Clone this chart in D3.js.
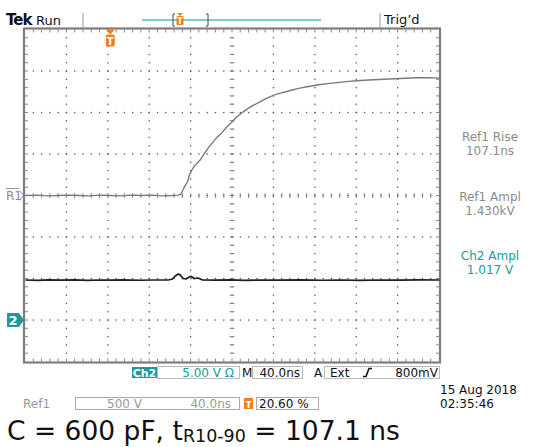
<!DOCTYPE html>
<html><head><meta charset="utf-8">
<script src="https://cdn.jsdelivr.net/npm/d3@7"></script>
<style>
html,body{margin:0;padding:0;background:#fff;}
svg{display:block;}
text{font-family:"DejaVu Sans",sans-serif;}
</style></head>
<body>
<script>
// ---- data ----
// Ref1 (rise waveform): time in ns relative to trigger, voltage in V
const ref1Time = [-82, -70, -60, -50, -40, -30, -20, -10, 0, 10, 20, 30, 40, 50, 60, 66, 68, 70, 71, 73, 75, 76.5, 77.3, 78.9, 81, 84, 87, 90, 95, 99, 103, 108, 113, 117.6, 120.8, 126, 132, 138, 145, 151, 158, 166, 174, 182, 190, 200, 210, 219, 228, 238, 250, 264, 280, 296, 308, 318];
const ref1Volt = [0, 5, -5, 0, 5, 0, -5, 5, 0, -5, 5, 0, 5, -5, 0, 5, 15, 60, 90, 130, 180, 250, 270, 310, 350, 390, 430, 490, 580, 640, 700, 760, 830, 885, 930, 985, 1040, 1085, 1130, 1170, 1210, 1240, 1265, 1290, 1310, 1332, 1348, 1360, 1372, 1383, 1392, 1400, 1410, 1418, 1420, 1414];
// Ch2 (current probe): time in ns, voltage in V
const ch2Time = [-82, -70, -60, -48, -35, -22, -10, 0, 12, 29, 42, 56, 60, 62.8, 65.7, 67.6, 70.5, 73.4, 76.3, 78.3, 81.2, 84, 86, 88.9, 100, 116, 130, 145, 165, 184, 205, 222, 240, 261, 280, 300, 318];
const ch2Volt = [4.82, 4.78, 4.84, 4.80, 4.83, 4.78, 4.82, 4.80, 4.84, 4.79, 4.82, 4.82, 4.94, 5.30, 5.54, 5.42, 5.00, 4.96, 5.18, 5.24, 5.00, 5.06, 5.00, 4.84, 4.80, 4.83, 4.78, 4.82, 4.80, 4.83, 4.79, 4.82, 4.78, 4.82, 4.80, 4.83, 4.82];

const divX = 10, divY = 8;
const nsPerDiv = 40, ref1VoltsPerDiv = 500, ch2VoltsPerDiv = 5;
const triggerPct = 0.206;
const ch2GroundDiv = -3; // divisions from centre

const readouts = [
  {l1: "Ref1 Rise", l2: "107.1ns", c: "#8a8a8a"},
  {l1: "Ref1 Ampl", l2: "1.430kV", c: "#8a8a8a"},
  {l1: "Ch2 Ampl", l2: "1.017 V", c: "#1a9a9a"}
];

// ---- layout ----
const W = 537, H = 447;
const L = 25, R = 439, T = 29.5, B = 361.5;
const TEAL = "#1a9a9a", ORANGE = "#f07f1c";

const svg = d3.select("body").append("svg").attr("width", W).attr("height", H);

const gx = d3.scaleLinear().domain([0, divX]).range([L, R]);
const gy = d3.scaleLinear().domain([0, divY]).range([T, B]);
const t0 = -triggerPct * divX * nsPerDiv;
const x = d3.scaleLinear().domain([t0, t0 + divX * nsPerDiv]).range([L, R]);
const yRef = d3.scaleLinear().domain([-4 * ref1VoltsPerDiv, 4 * ref1VoltsPerDiv]).range([B, T]);
// Ch2: ground at ch2GroundDiv divisions from centre
const yCh2 = d3.scaleLinear()
  .domain([(-4 - ch2GroundDiv) * ch2VoltsPerDiv, (4 - ch2GroundDiv) * ch2VoltsPerDiv]).range([B, T]);

// ---- graticule ----
const g = svg.append("g");
const dotColor = "#555";
for (let i = 1; i < divX; i++) {
  if (i === divX / 2) continue;
  for (let k = 1; k < divY * 5; k++) {
    g.append("rect").attr("x", gx(i) - 0.6).attr("y", gy(k / 5) - 0.6).attr("width", 1.3).attr("height", 1.3).attr("fill", dotColor);
  }
}
for (let j = 1; j < divY; j++) {
  if (j === divY / 2) continue;
  for (let k = 1; k < divX * 5; k++) {
    g.append("rect").attr("x", gx(k / 5) - 0.6).attr("y", gy(j) - 0.6).attr("width", 1.3).attr("height", 1.3).attr("fill", dotColor);
  }
}
const cx = gx(divX / 2), cy = gy(divY / 2);
for (let k = 1; k < divY * 5; k++) {
  g.append("rect").attr("x", cx - 0.6).attr("y", gy(k / 5) - 0.6).attr("width", 1.3).attr("height", 1.3).attr("fill", dotColor);
  g.append("line").attr("x1", cx - 2.5).attr("x2", cx + 2.5).attr("y1", gy(k / 5)).attr("y2", gy(k / 5)).attr("stroke", "#777").attr("stroke-width", 0.8);
}
for (let k = 1; k < divX * 5; k++) {
  g.append("rect").attr("x", gx(k / 5) - 0.6).attr("y", cy - 0.6).attr("width", 1.3).attr("height", 1.3).attr("fill", dotColor);
  g.append("line").attr("y1", cy - 2.5).attr("y2", cy + 2.5).attr("x1", gx(k / 5)).attr("x2", gx(k / 5)).attr("stroke", "#777").attr("stroke-width", 0.8);
}
for (let k = 1; k < divX * 5; k++) {
  const xx = gx(k / 5);
  g.append("line").attr("x1", xx).attr("x2", xx).attr("y1", T).attr("y2", T + 3).attr("stroke", "#777").attr("stroke-width", 0.9);
  g.append("line").attr("x1", xx).attr("x2", xx).attr("y1", B).attr("y2", B - 3).attr("stroke", "#777").attr("stroke-width", 0.9);
}
for (let k = 1; k < divY * 5; k++) {
  const yy = gy(k / 5);
  g.append("line").attr("y1", yy).attr("y2", yy).attr("x1", L).attr("x2", L + 3).attr("stroke", "#777").attr("stroke-width", 0.9);
  g.append("line").attr("y1", yy).attr("y2", yy).attr("x1", R).attr("x2", R - 3).attr("stroke", "#777").attr("stroke-width", 0.9);
}
g.append("rect").attr("x", L - 1).attr("y", T - 1).attr("width", R - L + 2).attr("height", B - T + 2)
  .attr("fill", "none").attr("stroke", "#7d7d7d").attr("stroke-width", 2.2);

// ---- traces ----
const refLine = d3.line().x((d, i) => x(ref1Time[i])).y((d) => yRef(d));
svg.append("path").attr("d", refLine(ref1Volt)).attr("fill", "none").attr("stroke", "#7a7a7a").attr("stroke-width", 1.4);
const ch2Line = d3.line().x((d, i) => x(ch2Time[i])).y((d) => yCh2(d));
svg.append("path").attr("d", ch2Line(ch2Volt)).attr("fill", "none").attr("stroke", "#1e1e1e").attr("stroke-width", 1.7);

// ---- trigger marker on graticule ----
const tx = x(0);
svg.append("path").attr("d", `M${tx - 4.5},${T} L${tx + 4.5},${T} L${tx},${T + 5} Z`).attr("fill", ORANGE);
svg.append("rect").attr("x", tx - 4.5).attr("y", T + 5).attr("width", 9).attr("height", 12).attr("rx", 2).attr("fill", ORANGE);
svg.append("text").attr("x", tx).attr("y", T + 15).attr("text-anchor", "middle").attr("font-size", 10).attr("font-weight", "bold").attr("fill", "#fff").text("T");

// ---- left markers ----
const r1y = yRef(0);
svg.append("text").attr("x", 6).attr("y", r1y + 4.5).attr("font-size", 12).attr("fill", "#8a8a8a").attr("font-family", "Liberation Serif, serif").text("R1");
svg.append("line").attr("x1", 6).attr("x2", 19).attr("y1", r1y - 7).attr("y2", r1y - 7).attr("stroke", "#8a8a8a").attr("stroke-width", 0.9);
svg.append("path").attr("d", `M19.5,${r1y - 5} L23.5,${r1y} L19.5,${r1y + 5}`).attr("fill", "none").attr("stroke", "#8a8a8a").attr("stroke-width", 0.9);
const c2y = yCh2(0);
svg.append("path").attr("d", `M7,${c2y - 7} L19,${c2y - 7} L24,${c2y} L19,${c2y + 7} L7,${c2y + 7} Z`).attr("fill", TEAL);
svg.append("text").attr("x", 13).attr("y", c2y + 5).attr("text-anchor", "middle").attr("font-size", 13).attr("font-weight", "bold").attr("fill", "#fff").text("2");

// ---- top bar ----
svg.append("text").attr("x", 6).attr("y", 25).attr("font-size", 15).attr("font-weight", "bold").attr("letter-spacing", -1).attr("fill", "#111").attr("font-family", "Liberation Sans, sans-serif").text("Tek");
svg.append("text").attr("x", 36).attr("y", 25).attr("font-size", 13).attr("fill", "#111").text("Run");
svg.append("line").attr("x1", 83).attr("x2", 83).attr("y1", 13).attr("y2", 27).attr("stroke", "#999").attr("stroke-width", 1);
svg.append("line").attr("x1", 142).attr("x2", 321).attr("y1", 20).attr("y2", 20).attr("stroke", "#7fcfcf").attr("stroke-width", 2);
svg.append("path").attr("d", "M175,14 L173,14 L173,26 L175,26").attr("fill", "none").attr("stroke", "#444").attr("stroke-width", 1);
svg.append("path").attr("d", "M206,14 L208,14 L208,26 L206,26").attr("fill", "none").attr("stroke", "#444").attr("stroke-width", 1);
svg.append("path").attr("d", "M177,13 L183,13 L180,16 Z").attr("fill", ORANGE);
svg.append("rect").attr("x", 176.5).attr("y", 16).attr("width", 7).attr("height", 9).attr("rx", 1).attr("fill", ORANGE);
svg.append("text").attr("x", 180).attr("y", 24).attr("text-anchor", "middle").attr("font-size", 8).attr("font-weight", "bold").attr("fill", "#fff").text("T");
svg.append("line").attr("x1", 380).attr("x2", 380).attr("y1", 13).attr("y2", 27).attr("stroke", "#999").attr("stroke-width", 1);
svg.append("text").attr("x", 384).attr("y", 24).attr("font-size", 13).attr("fill", "#111").text("Trig\u2019d");

// ---- right readouts ----
const ry = [137, 197, 256];
readouts.forEach((r, i) => {
  svg.append("text").attr("x", 490).attr("y", ry[i] + 4).attr("text-anchor", "middle").attr("font-size", 12).attr("fill", r.c).text(r.l1);
  svg.append("text").attr("x", 490).attr("y", ry[i] + 18).attr("text-anchor", "middle").attr("font-size", 12).attr("fill", r.c).text(r.l2);
});

// ---- status bar ----
const sb = svg.append("g").attr("font-size", 12);
sb.append("rect").attr("x", 132).attr("y", 367).attr("width", 25).attr("height", 11).attr("fill", TEAL);
sb.append("text").attr("x", 144.5).attr("y", 377).attr("text-anchor", "middle").attr("font-size", 11).attr("fill", "#fff").attr("font-weight", "bold").text("Ch2");
sb.append("rect").attr("x", 157.5).attr("y", 366.5).attr("width", 82).attr("height", 12).attr("fill", "none").attr("stroke", "#bbb");
sb.append("text").attr("x", 234).attr("y", 377).attr("text-anchor", "end").attr("fill", TEAL).text("5.00 V \u03A9");
sb.append("text").attr("x", 242).attr("y", 377).attr("fill", "#111").text("M");
sb.append("rect").attr("x", 252.5).attr("y", 366.5).attr("width", 50).attr("height", 12).attr("fill", "none").attr("stroke", "#bbb");
sb.append("text").attr("x", 300).attr("y", 377).attr("text-anchor", "end").attr("fill", "#111").text("40.0ns");
sb.append("text").attr("x", 314).attr("y", 377).attr("fill", "#111").text("A");
sb.append("rect").attr("x", 324.5).attr("y", 366.5).attr("width", 115).attr("height", 12).attr("fill", "none").attr("stroke", "#bbb");
sb.append("text").attr("x", 330).attr("y", 377).attr("fill", "#111").text("Ext");
sb.append("path").attr("d", "M363,376.5 L366,376.5 L369,368.5 L372,368.5").attr("fill", "none").attr("stroke", "#111").attr("stroke-width", 1.6);
sb.append("text").attr("x", 438).attr("y", 377).attr("text-anchor", "end").attr("fill", "#111").text("800mV");

sb.append("text").attr("x", 23).attr("y", 408).attr("fill", "#999").text("Ref1");
sb.append("rect").attr("x", 75.5).attr("y", 397.5).attr("width", 164).attr("height", 12).attr("fill", "none").attr("stroke", "#aaa");
sb.append("text").attr("x", 107).attr("y", 408).attr("fill", "#999").text("500 V");
sb.append("text").attr("x", 231).attr("y", 408).attr("text-anchor", "end").attr("fill", "#999").text("40.0ns");
sb.append("rect").attr("x", 244).attr("y", 398).attr("width", 9).attr("height", 11).attr("fill", ORANGE);
sb.append("text").attr("x", 248.5).attr("y", 407.5).attr("text-anchor", "middle").attr("font-size", 9).attr("font-weight", "bold").attr("fill", "#fff").text("T");
sb.append("rect").attr("x", 256.5).attr("y", 397.5).attr("width", 62).attr("height", 12).attr("fill", "none").attr("stroke", "#aaa");
sb.append("text").attr("x", 259).attr("y", 408).attr("fill", "#111").text("20.60 %");

sb.append("text").attr("x", 440).attr("y", 394).attr("fill", "#111").text("15 Aug 2018");
sb.append("text").attr("x", 440).attr("y", 408).attr("fill", "#111").text("02:35:46");

// caption
const cap = svg.append("text").attr("x", 7).attr("y", 440).attr("font-size", 26.5).attr("fill", "#111").attr("font-family", "Liberation Sans, Arial, sans-serif");
cap.append("tspan").text("C = 600 pF, t");
cap.append("tspan").attr("font-size", 17.5).attr("dy", 2).text("R10-90");
cap.append("tspan").attr("dy", -2).text(" = 107.1 ns");
</script>
</body></html>
